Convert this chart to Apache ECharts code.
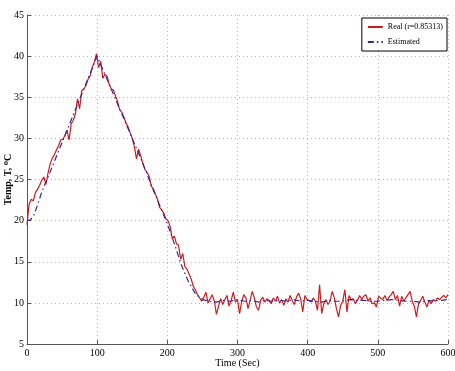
<!DOCTYPE html>
<html><head><meta charset="utf-8">
<script src="https://cdn.jsdelivr.net/npm/echarts@6/dist/echarts.min.js"></script>
<style>html,body{margin:0;padding:0;background:#fff}#c{width:455px;height:371px}</style>
</head><body><div id="c"></div>
<script>
const xTicks = [0, 100, 200, 300, 400, 500, 600];
const yTicks = [5, 10, 15, 20, 25, 30, 35, 40, 45];
const seriesNames = ['Real (r=0.85313)', 'Estimated'];
// [time (s), temperature (°C)]
const realData = [
 [0,19.5],[3,22.0],[6,22.6],[9,22.4],[12,23.4],[15,23.8],[18,24.3],[21,24.9],[24,25.3],[27,24.4],
 [30,25.8],[33,26.9],[36,27.6],[39,28.0],[42,28.6],[45,29.1],[48,29.8],[51,29.9],[54,30.3],[57,31.0],
 [60,29.8],[63,31.8],[66,32.2],[69,33.0],[72,34.8],[75,33.6],[78,35.8],[81,36.0],[84,36.4],[87,37.2],
 [90,37.6],[93,38.6],[96,39.3],[99,40.3],[102,38.6],[105,39.4],[108,37.3],[111,37.8],[114,37.6],[117,36.6],
 [120,36.0],[123,35.9],[126,35.2],[129,34.5],[132,33.5],[135,33.2],[138,32.6],[141,31.9],[144,31.4],[147,30.7],
 [150,30.0],[153,29.0],[156,27.5],[159,28.7],[162,27.9],[165,27.0],[168,26.2],[171,25.9],[174,25.4],[177,24.2],
 [180,23.9],[183,23.2],[186,22.6],[189,21.6],[192,21.3],[195,20.9],[198,20.2],[201,20.0],[204,19.3],[207,17.8],
 [210,18.1],[213,17.2],[216,17.0],[219,15.3],[222,16.0],[225,14.4],[228,14.1],[231,13.5],[234,12.9],[237,12.0],
 [240,11.6],[243,11.0],[246,10.6],[249,10.2],[252,10.7],[255,11.3],[258,10.0],[261,10.5],[264,11.0],[267,10.2],
 [270,8.6],[273,9.6],[276,10.5],[279,9.8],[282,10.4],[285,10.9],[288,9.6],[291,10.3],[294,11.3],[297,10.1],
 [300,10.4],[303,8.7],[306,10.2],[309,11.0],[312,10.6],[315,9.3],[318,10.3],[321,11.4],[324,10.6],[327,9.5],
 [330,9.1],[333,10.3],[336,10.7],[339,10.1],[342,10.5],[345,10.3],[348,9.9],[351,10.6],[354,10.2],[357,10.8],
 [360,10.0],[363,10.4],[366,9.7],[369,10.5],[372,10.1],[375,10.9],[378,10.3],[381,9.8],[384,10.7],[387,11.2],
 [390,10.5],[393,8.9],[396,10.9],[399,10.4],[402,10.3],[405,10.1],[408,10.6],[411,10.2],[414,9.1],[417,12.2],
 [420,8.7],[423,9.9],[426,10.4],[429,9.8],[432,10.2],[435,11.4],[438,10.6],[441,9.3],[444,8.3],[447,9.7],
 [450,10.2],[453,11.6],[456,8.9],[459,10.9],[462,10.4],[465,10.5],[468,9.9],[471,10.3],[474,10.9],[477,10.4],
 [480,10.8],[483,11.0],[486,10.2],[489,10.6],[492,9.9],[495,10.0],[498,9.5],[501,10.8],[504,10.6],[507,10.4],
 [510,10.9],[513,10.3],[516,10.7],[519,11.0],[522,11.4],[525,10.4],[528,10.9],[531,9.6],[534,10.8],[537,10.2],
 [540,10.6],[543,11.0],[546,11.4],[549,10.2],[552,9.6],[555,8.3],[558,9.9],[561,10.3],[564,10.8],[567,10.1],
 [570,9.5],[573,10.3],[576,9.9],[579,10.4],[582,10.2],[585,10.6],[588,10.4],[591,10.7],[594,10.9],[597,10.6],
 [600,11.0]
];
const estimatedData = [
 [0,20.0],[5,20.1],[10,20.7],[15,21.9],[20,23.2],[25,24.3],[30,25.3],[40,27.4],[50,29.5],[60,31.6],
 [70,33.7],[80,35.8],[90,37.9],[100,40.0],[110,38.0],[120,36.0],[130,34.0],[140,32.0],[150,30.0],[160,28.0],
 [170,25.9],[180,23.7],[190,21.7],[200,19.6],[210,17.2],[220,14.6],[230,12.6],[240,11.1],[250,10.4],[260,10.2],
 [270,10.1],[280,10.3],[290,10.2],[300,10.4],[310,10.2],[320,10.3],[330,10.1],[340,10.3],[350,10.2],[360,10.3],
 [370,10.2],[380,10.4],[390,10.2],[400,10.3],[410,10.2],[420,10.1],[430,10.3],[440,10.2],[450,10.2],[460,10.4],
 [470,10.3],[480,10.3],[490,10.2],[500,10.2],[510,10.3],[520,10.4],[530,10.3],[540,10.2],[550,10.2],[560,10.1],
 [570,10.3],[580,10.2],[590,10.3],[600,10.4]
];

const chart = echarts.init(document.getElementById('c'), null, {renderer: 'canvas'});
const font = '"Liberation Serif", "DejaVu Serif", serif';
const gridLine = {show: true, lineStyle: {color: '#b8b8b8', type: [1, 3], width: 1}};
chart.setOption({
  animation: false,
  backgroundColor: '#fff',
  textStyle: {fontFamily: font},
  grid: {left: 27, right: 7, top: 15, bottom: 27, containLabel: false, outerBoundsMode: 'none'},
  legend: {
    orient: 'vertical', right: 8, top: 18, padding: [5, 4, 5, 5],
    backgroundColor: '#fff', borderColor: '#000', borderWidth: 1, borderRadius: 0,
    itemWidth: 15, itemHeight: 8, itemGap: 7,
    itemStyle: {opacity: 0},
    textStyle: {fontFamily: font, fontSize: 8, color: '#000'},
    data: seriesNames
  },
  xAxis: {
    type: 'value', min: xTicks[0], max: xTicks[xTicks.length - 1], interval: 100,
    name: 'Time (Sec)', nameLocation: 'middle', nameGap: 14, nameMoveOverlap: false,
    nameTextStyle: {fontFamily: font, fontSize: 10, color: '#000'},
    axisLine: {show: true, lineStyle: {color: '#555', width: 1}},
    axisTick: {show: true, inside: true, length: 4, lineStyle: {color: '#555'}},
    axisLabel: {fontFamily: font, fontSize: 10, color: '#000', margin: 4},
    splitLine: gridLine
  },
  yAxis: {
    type: 'value', min: yTicks[0], max: yTicks[yTicks.length - 1], interval: 5,
    name: 'Temp, T, \u2070C', nameLocation: 'middle', nameGap: 14, nameRotate: 90, nameMoveOverlap: false,
    nameTextStyle: {fontFamily: font, fontSize: 10, color: '#000', fontWeight: 'bold'},
    axisLine: {show: true, lineStyle: {color: '#555', width: 1}},
    axisTick: {show: true, inside: true, length: 4, lineStyle: {color: '#555'}},
    axisLabel: {fontFamily: font, fontSize: 10, color: '#000', margin: 3},
    splitLine: gridLine
  },
  series: [
    {name: seriesNames[0], type: 'line', data: realData, symbol: 'none',
     lineStyle: {color: '#d81818', width: 1.2}, itemStyle: {color: '#d81818'}, z: 2},
    {name: seriesNames[1], type: 'line', data: estimatedData, symbol: 'none',
     lineStyle: {color: '#2a2aa8', width: 1.2, type: [6, 3, 1.5, 3]}, itemStyle: {color: '#2a2aa8'}, z: 3}
  ]
});
</script></body></html>
